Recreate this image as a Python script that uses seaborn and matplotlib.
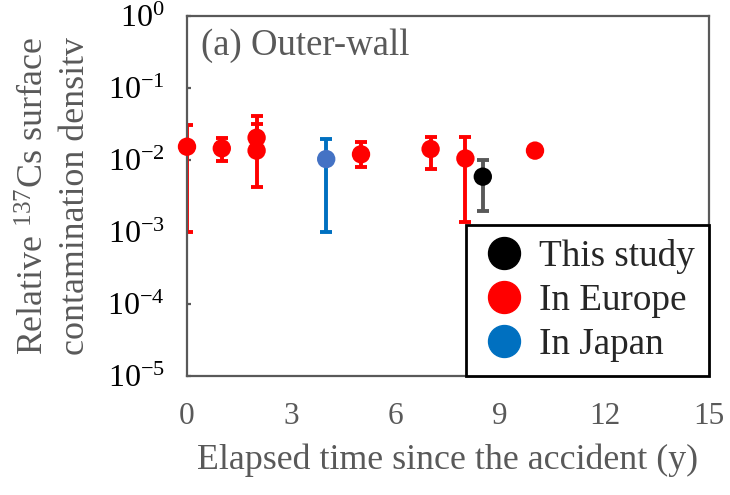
import numpy as np
import pandas as pd
import matplotlib
matplotlib.use("Agg")
import matplotlib.pyplot as plt
from matplotlib.lines import Line2D
from matplotlib.ticker import NullLocator
import seaborn as sns

# data
groups = ["This study", "In Europe", "In Europe", "In Europe", "In Europe",
          "In Europe", "In Europe", "In Europe", "In Europe", "In Japan"]
elapsed = [8.5, 0, 1, 2, 2, 5, 7, 8, 10, 4]
density = [0.00587, 0.0153, 0.0145, 0.0204, 0.0135, 0.0120, 0.0142, 0.0105, 0.0135, 0.0103]
err_low = [0.00198, 0.00101, 0.0097, 0.016, 0.0042, 0.0079, 0.0075, 0.00139, np.nan, 0.00099]
err_high = [0.0100, 0.0306, 0.020, 0.041, 0.032, 0.018, 0.021, 0.021, np.nan, 0.0196]

legend_labels = ["This study", "In Europe", "In Japan"]
marker_colors = {"This study": "#000000", "In Europe": "#FF0000", "In Japan": "#4472C4"}
bar_colors = {"This study": "#595959", "In Europe": "#FF0000", "In Japan": "#0070C0"}
legend_colors = ["#000000", "#FF0000", "#0070C0"]
y_ticks = [1e-5, 1e-4, 1e-3, 1e-2, 1e-1, 1e0]

df = pd.DataFrame(dict(group=groups, t=elapsed, v=density, lo=err_low, hi=err_high))

sns.set_style("white")
plt.rcParams["font.family"] = ["Liberation Serif", "DejaVu Serif"]
plt.rcParams["mathtext.fontset"] = "custom"
plt.rcParams["mathtext.rm"] = "Liberation Serif"
plt.rcParams["mathtext.it"] = "Liberation Serif:italic"

grey = "#595959"

fig = plt.figure(figsize=(7.3, 4.95), dpi=100)
ax = fig.add_axes([187 / 730, 1 - 376 / 495, 522 / 730, 360 / 495])

# error bars first, markers on top
for name, sub in df.dropna().groupby("group"):
    ax.errorbar(sub.t, sub.v, yerr=[sub.v - sub.lo, sub.hi - sub.v], fmt="none",
                ecolor=bar_colors[name], elinewidth=2.8, capsize=4.5, capthick=2.8,
                zorder=2)

sns.scatterplot(data=df, x="t", y="v", hue="group", palette=marker_colors,
                s=175, linewidth=0, legend=False, ax=ax, zorder=3, clip_on=False)

ax.set_yscale("log")
ax.set_ylim(1e-5, 1)
ax.set_yticks(y_ticks)
ax.yaxis.set_minor_locator(NullLocator())
ax.set_xlim(0, 15)
ax.set_xticks(np.arange(0, 16, 3))

for s in ax.spines.values():
    s.set_color(grey)
    s.set_linewidth(1.6)

ax.tick_params(axis="x", direction="in", length=7, width=1.6, color=grey,
               labelcolor=grey, labelsize=22.5, pad=19)
ax.tick_params(axis="y", direction="in", length=3, width=1.6, color=grey,
               labelcolor="black", labelsize=23, pad=16, left=True)

ax.set_xlabel("Elapsed time since the accident (y)", fontsize=25.8, color=grey, labelpad=9)
ax.set_ylabel("Relative $^{137}$Cs surface\ncontamination densitv", fontsize=25.8,
              color=grey, linespacing=1.3)
ax.yaxis.label.set(va="center", ha="center", multialignment="center")
ax.yaxis.set_label_coords(-0.252, 0.5)

ax.text(0.027, 0.965, "(a) Outer-wall", transform=ax.transAxes, fontsize=26.5,
        color=grey, ha="left", va="top")

handles = [Line2D([], [], marker="o", ls="", color=c, markersize=23)
           for c in legend_colors]
leg = ax.legend(handles, legend_labels, loc="lower right", bbox_to_anchor=(1.0, 0.0),
                fontsize=26.7, frameon=True, fancybox=False, borderaxespad=0,
                handletextpad=0.3, labelspacing=0.26, borderpad=0.38, handlelength=1.3)
leg.get_frame().set_edgecolor("black")
leg.get_frame().set_linewidth(2)
leg.get_frame().set_alpha(None)
leg.set_zorder(5)

fig.savefig("out.png", dpi=100)
